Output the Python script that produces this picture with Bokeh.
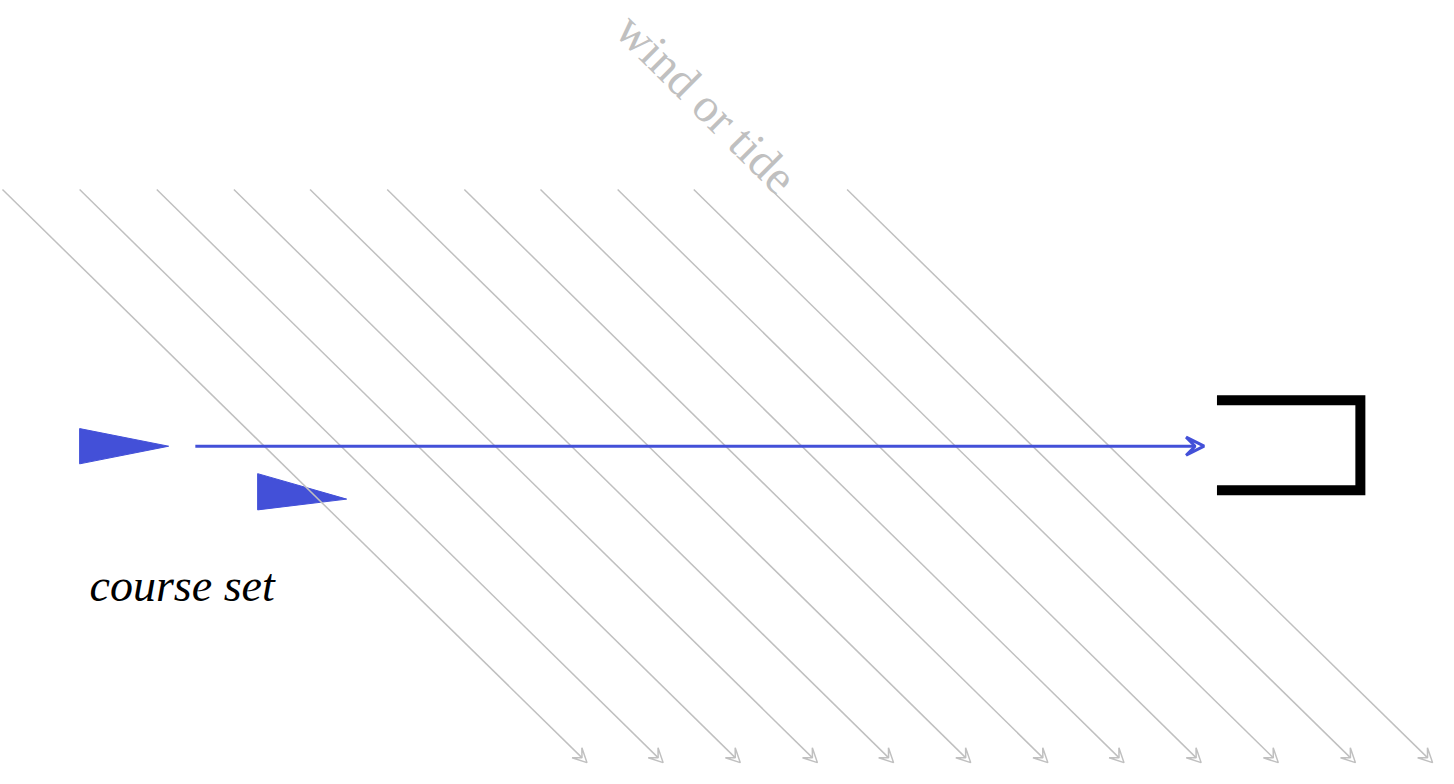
from bokeh.plotting import figure
from bokeh.models import Range1d, Arrow, VeeHead
from bokeh.core.properties import value
from bokeh.embed import file_html
from bokeh.resources import INLINE

# gray wind lines: top start x and bottom end x
wind_x0 = [2, 80, 158, 236, 313, 391, 469, 546, 624, 701, 779, 856]
wind_x1 = [593, 670, 748, 826, 903, 981, 1059, 1136, 1214, 1292, 1370, 1448]
wind_y0 = 193
wind_y1 = 778

# blue course line
course_x = [197, 1217]
course_y = 455

# blue triangles (pointers)
tri_xs = [[80, 170, 80], [260, 350, 260]]
tri_ys = [[437, 455, 473], [483, 509, 520]]

# black bracket (target)
bracket_x = [1230, 1375, 1375, 1230]
bracket_y = [408, 408, 500, 500]

p = figure(width=1438, height=768, output_backend="svg", toolbar_location=None,
           x_range=Range1d(0, 1454), y_range=Range1d(784, 0), min_border=0)
p.axis.visible = False
p.grid.visible = False
p.outline_line_color = None

for a, b in zip(wind_x0, wind_x1):
    p.add_layout(Arrow(x_start=a, y_start=wind_y0, x_end=b, y_end=wind_y1,
                       line_color="#c0c0c0", line_width=1.5,
                       end=VeeHead(size=14, line_color="#c0c0c0", line_width=1.5, fill_color=None)))

p.add_layout(Arrow(x_start=course_x[0], y_start=course_y, x_end=course_x[1], y_end=course_y,
                   line_color="#4350d8", line_width=3,
                   end=VeeHead(size=18, line_color="#4350d8", line_width=3, fill_color=None)))

p.patches(tri_xs, tri_ys, fill_color="#4350d8", line_color="#4350d8")

p.line(bracket_x, bracket_y, line_color="black", line_width=10, line_join="miter")

p.text(x=[650], y=[2], text=["wind or tide"], angle=-0.785, text_color="#c0c0c0",
       text_font=value("Liberation Serif"), text_font_size="48px",
       text_baseline="top", text_align="left")
p.text(x=[90], y=[597], text=["course set"], text_color="black",
       text_font=value("Liberation Serif"), text_font_style="italic",
       text_font_size="46px", text_baseline="middle", text_align="left")

open("out.html", "w").write(file_html(p, INLINE))
